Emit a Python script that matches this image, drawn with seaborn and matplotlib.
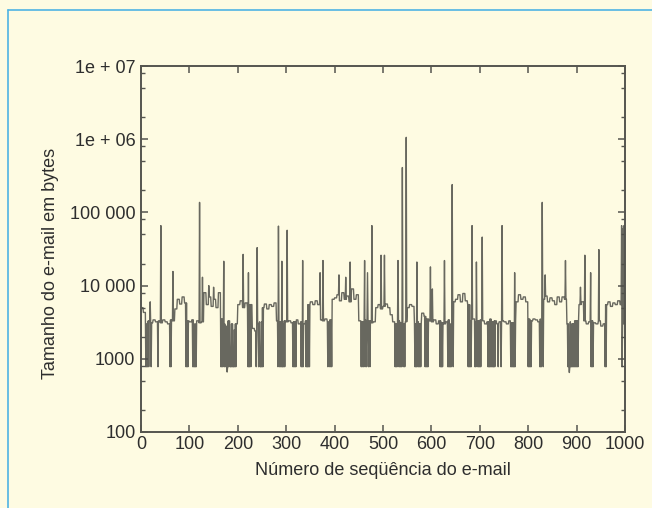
import numpy as np
import pandas as pd
import matplotlib
matplotlib.use("Agg")
import matplotlib.pyplot as plt
from matplotlib.lines import Line2D
from matplotlib.ticker import FixedLocator, FixedFormatter, NullFormatter
import seaborn as sns

# Typical message size, one value per run of 5 consecutive e-mails (bytes)
base_levels = [
    5000, 4300, 3000, 3300, 3100, 3400, 3200, 3300, 3100, 3400,
    3200, 3000, 3400, 3300, 4800, 6500, 5600, 7000, 5800, 3300,
    3200, 3400, 3000, 3300, 3100, 3200, 8000, 5500, 7000, 5200,
    6500, 5000, 8000, 3500, 3000, 2800, 3300, 3000, 2500, 3000,
    5500, 6200, 5000, 5800, 5000, 5500, 2600, 2400, 3000, 3200,
    5000, 5600, 4800, 5500, 5200, 5800, 3300, 3200, 3000, 3300,
    3200, 3300, 3100, 3200, 3400, 3000, 3200, 3000, 3300, 5500,
    6000, 5500, 6200, 5500, 3400, 3300, 3500, 3200, 3400, 6500,
    6800, 7500, 6200, 8000, 6500, 7200, 6000, 9000, 6500, 7500,
    3300, 3200, 3400, 3000, 3300, 3100, 3200, 5000, 5500, 4800,
    5200, 5600, 5000, 4000, 3200, 3000, 3300, 3100, 3000, 3200,
    5000, 5500, 5200, 3000, 3200, 3000, 4200, 3800, 3500, 3300,
    3200, 3400, 3000, 3300, 3100, 3000, 3200, 3400, 3000, 6000,
    6500, 7500, 6000, 7800, 6200, 5500, 3300, 3500, 3200, 3300,
    3400, 3300, 3000, 3200, 3500, 3200, 3300, 3000, 3200, 3300,
    3200, 3000, 3300, 3100, 3400, 6000, 7500, 6500, 7000, 6000,
    3500, 3300, 3500, 3400, 3200, 3500, 6500, 7200, 6000, 6800,
    6200, 5500, 7000, 6000, 7000, 6500, 3000, 3200, 3000, 3300,
    3300, 5500, 6000, 3300, 3000, 3200, 3300, 3100, 3000, 3300,
    2800, 3000, 5500, 6000, 5200, 5800, 5500, 6200, 5500, 3000,
]

# Short messages (about 780 bytes)
floor_size = 780
floor_idx = [
    10, 12, 13, 16, 21, 35, 60, 62, 93, 95, 97, 107, 109, 111, 112, 114,
    165, 167, 169, 172, 174, 177, 179, 181, 184, 185, 186, 188, 190, 191, 192, 194, 196,
    221, 223, 224, 227, 238, 243, 246, 247, 248, 250, 252,
    283, 286, 288, 290, 292, 293, 295, 297, 314, 316, 318, 320,
    331, 333, 335, 341, 343, 344, 346, 348, 386, 389, 392, 394,
    455, 457, 460, 463, 466, 470, 473, 525, 527, 529, 533, 535, 537, 539, 543, 545,
    566, 568, 569, 572, 574, 576, 578, 587, 589, 591, 593, 618, 620, 621, 623,
    634, 636, 638, 639, 641, 645, 676, 678, 680, 682, 690, 692, 696, 698, 700, 702,
    717, 719, 720, 722, 724, 726, 728, 729, 731, 738, 744, 764, 766, 768, 770, 771, 773,
    800, 802, 804, 806, 824, 826, 827, 831,
    882, 884, 886, 888, 889, 891, 893, 895, 897, 899, 901, 903, 930, 932, 934, 959, 961, 994,
]

# Very small messages
tiny_idx = [178, 885]
tiny_val = [660, 650]

# Large messages
spike_idx = [19, 41, 66, 121, 127, 140, 150, 171, 211, 222, 240, 284, 291, 302,
             334, 370, 376, 409, 423, 432, 462, 468, 477, 496, 503, 531, 540, 548,
             570, 598, 602, 627, 643, 684, 693, 705, 746, 772, 829, 835, 877, 908,
             917, 929, 946, 993, 996, 998]
spike_val = [6000, 66000, 15600, 137000, 13000, 10000, 9500, 21500, 26700, 15000,
             33000, 65000, 21500, 57000, 22000, 15000, 22000, 14000, 13000, 21000,
             22000, 15000, 66000, 26000, 26000, 22000, 410000, 1060000, 21000, 18000,
             9000, 22000, 240000, 66000, 21000, 46000, 66000, 15000, 137000, 14000,
             22000, 9500, 26000, 15000, 31000, 66000, 60000, 66000]

y_ticks = [1e2, 1e3, 1e4, 1e5, 1e6, 1e7]
y_tick_labels = ["100", "1000", "10 000", "100 000", "1e + 06", "1e + 07"]
x_ticks = [0, 100, 200, 300, 400, 500, 600, 700, 800, 900, 1000]

# Assemble the per-message series
size = np.repeat(np.array(base_levels, dtype=float), 5)
size[floor_idx] = floor_size
size[tiny_idx] = tiny_val
size[spike_idx] = spike_val
df = pd.DataFrame({"email": np.arange(len(size)), "bytes": size})

bg = "#fefbe2"
ink = "#2e2e2e"
axis_col = "#55554f"

sns.set_style("ticks")
plt.rcParams["font.family"] = ["Liberation Sans", "DejaVu Sans"]

fig = plt.figure(figsize=(6.52, 5.08), dpi=100, facecolor=bg)
ax = fig.add_axes([141 / 652, 1 - 432 / 508, 484 / 652, 366 / 508])
ax.set_facecolor(bg)

sns.lineplot(data=df, x="email", y="bytes", ax=ax, estimator=None,
             color="#4e4e48", linewidth=1.0, alpha=0.85)

ax.set_yscale("log")
ax.set_ylim(100, 1e7)
ax.set_xlim(0, 1000)

ax.yaxis.set_major_locator(FixedLocator(y_ticks))
ax.yaxis.set_major_formatter(FixedFormatter(y_tick_labels))
minor = [m * 10 ** e for e in range(2, 7) for m in (2, 5, 8)]
ax.yaxis.set_minor_locator(FixedLocator(minor))
ax.yaxis.set_minor_formatter(NullFormatter())
ax.set_xticks(x_ticks)
ax.set_xticklabels([str(t) for t in x_ticks])

for s in ax.spines.values():
    s.set_visible(True)
    s.set_color(axis_col)
    s.set_linewidth(1.4)

ax.tick_params(axis="both", which="major", direction="in", length=5, width=1.1,
               color=axis_col, labelsize=13, labelcolor=ink,
               top=True, right=True)
ax.tick_params(axis="y", which="minor", direction="in", length=3, width=1.0,
               color=axis_col, right=True, left=True)
ax.tick_params(axis="x", which="major", pad=3)
ax.tick_params(axis="y", which="major", pad=4)

ax.set_xlabel("Número de seqüência do e-mail", fontsize=13, color=ink)
ax.set_ylabel("Tamanho do e-mail em bytes", fontsize=13, color=ink)
ax.xaxis.set_label_coords(0.5, -0.082)
ax.yaxis.set_label_coords(-0.170, 0.46)

# Blue frame around the panel
frame = "#4fb4e4"
fig.add_artist(Line2D([8 / 652, 8 / 652], [0, 1 - 10 / 508], transform=fig.transFigure,
                      color=frame, linewidth=1.2))
fig.add_artist(Line2D([8 / 652, 1.0], [1 - 10 / 508, 1 - 10 / 508], transform=fig.transFigure,
                      color=frame, linewidth=1.2))

fig.savefig("out.png", dpi=100, facecolor=bg)
